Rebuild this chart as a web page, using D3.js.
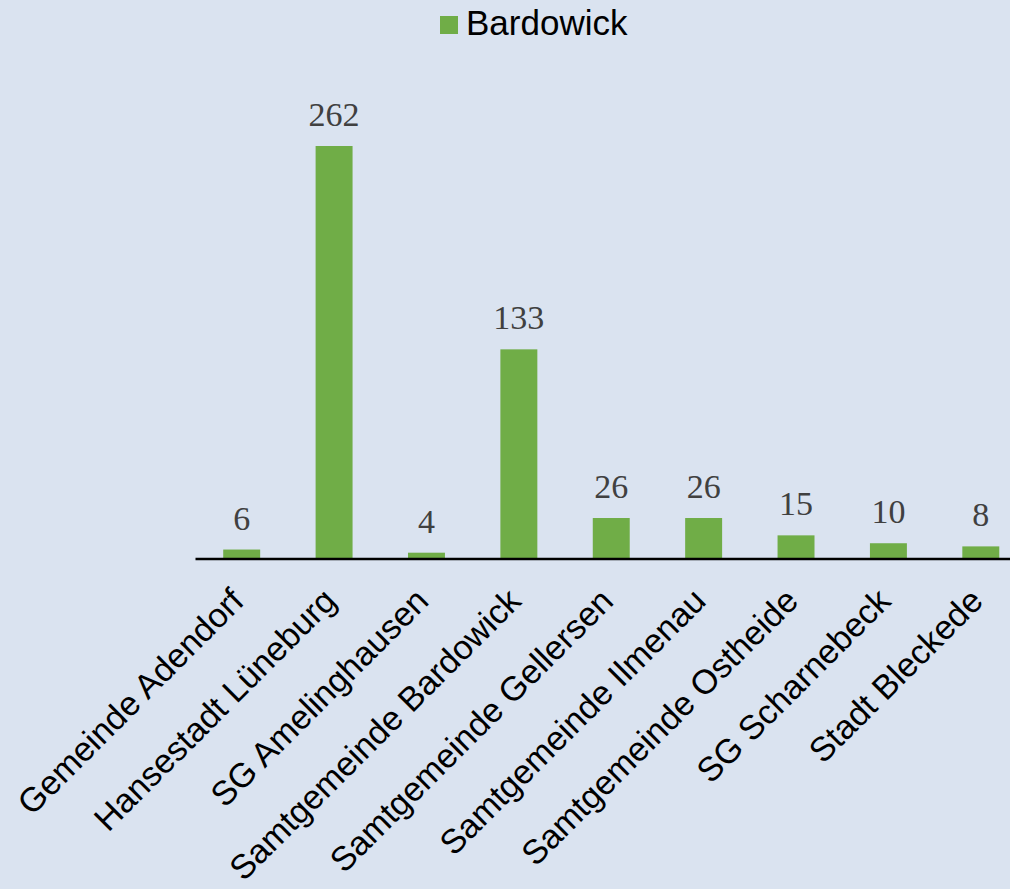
<!DOCTYPE html>
<html><head><meta charset="utf-8">
<script src="https://cdn.jsdelivr.net/npm/d3@7"></script>
<style>
html,body{margin:0;padding:0;background:#dae3f0;}
svg{display:block;}
</style></head>
<body>
<script>
const categories = ["Gemeinde Adendorf","Hansestadt Lüneburg","SG Amelinghausen","Samtgemeinde Bardowick","Samtgemeinde Gellersen","Samtgemeinde Ilmenau","Samtgemeinde Ostheide","SG Scharnebeck","Stadt Bleckede"];
const values = [6,262,4,133,26,26,15,10,8];
const seriesName = "Bardowick";

const W = 1010, H = 889;
const svg = d3.select("body").append("svg").attr("width", W).attr("height", H);
svg.append("rect").attr("width", W).attr("height", H).attr("fill", "#dae3f0");

const x = d3.scaleBand().domain(categories).range([195.5, 1027]).paddingInner(0.6).paddingOuter(0.3);
const y = d3.scaleLinear().domain([0, 262]).range([559, 146]);

svg.selectAll("rect.bar").data(values).join("rect")
  .attr("class","bar")
  .attr("x", (d,i) => x(categories[i]))
  .attr("width", x.bandwidth())
  .attr("y", d => y(d))
  .attr("height", d => y(0) - y(d))
  .attr("fill", "#70ad47");

svg.selectAll("text.val").data(values).join("text")
  .attr("class","val")
  .attr("x", (d,i) => x(categories[i]) + x.bandwidth()/2)
  .attr("y", d => y(d) - 20)
  .attr("text-anchor","middle")
  .attr("font-family","'Liberation Serif', 'Times New Roman', serif")
  .attr("font-size", 34)
  .attr("fill","#404040")
  .text(d => d);

const xAxis = svg.append("g").attr("transform", `translate(0,${y(0)})`)
  .call(d3.axisBottom(x).tickSize(0).tickPadding(0));
xAxis.select(".domain").attr("stroke","#000").attr("stroke-width",2.5).attr("d","M195.5,0H1027");
xAxis.selectAll("text")
  .attr("font-family","'Liberation Sans', Arial, sans-serif")
  .attr("font-size", 34)
  .attr("fill","#000")
  .attr("text-anchor","end")
  .attr("dy", null)
  .attr("y", 0)
  .attr("transform","translate(4,44) rotate(-45)");

const lg = svg.append("g");
lg.append("rect").attr("x",440).attr("y",16).attr("width",18).attr("height",18).attr("fill","#70ad47");
lg.append("text").attr("x",466).attr("y",35)
  .attr("font-family","'Liberation Sans', Arial, sans-serif")
  .attr("font-size",35).attr("fill","#000").text(seriesName);
</script>
</body></html>
